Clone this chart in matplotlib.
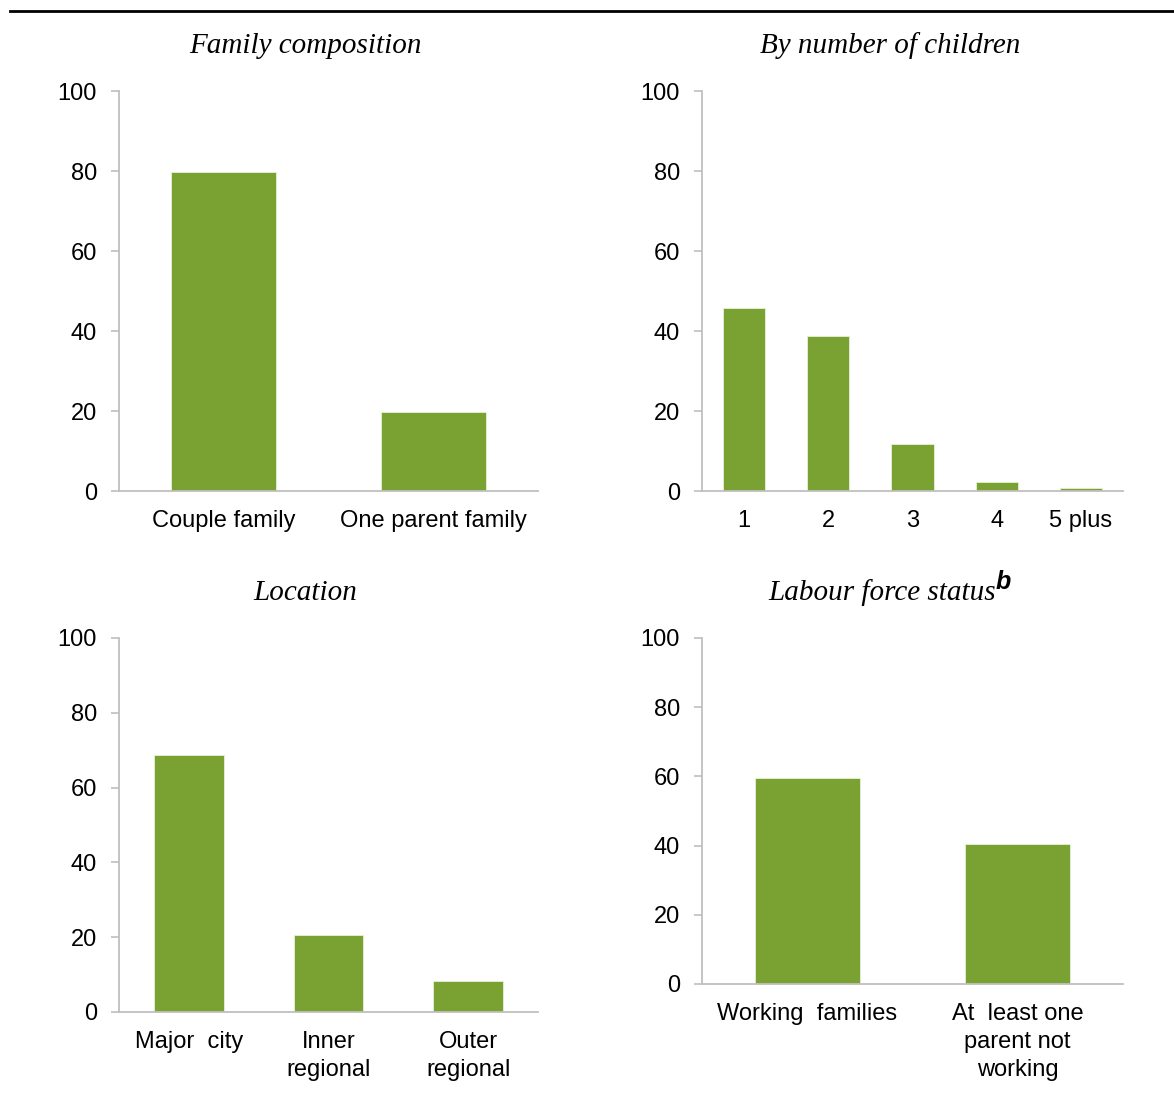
import matplotlib

matplotlib.use("Agg")
import matplotlib.pyplot as plt
from matplotlib.lines import Line2D

# values (per cent)
family_labels = ["Couple family", "One parent family"]
family_values = [79.8, 19.8]

children_labels = ["1", "2", "3", "4", "5 plus"]
children_values = [45.7, 38.7, 11.7, 2.2, 0.7]

location_labels = ["Major  city", "Inner\nregional", "Outer\nregional"]
location_values = [68.7, 20.7, 8.4]

labour_labels = ["Working  families", "At  least one\nparent not\nworking"]
labour_values = [59.4, 40.4]

BAR_COLOR = "#7AA232"
AXIS_GREY = "#BFBFBF"
W, H = 1174, 1095

plt.rcParams["font.family"] = ["Liberation Sans", "DejaVu Sans"]


def px_axes(fig, left, right, top, bottom):
    return fig.add_axes([left / W, 1 - bottom / H, (right - left) / W, (bottom - top) / H])


def bar_panel(ax, labels, values, yticks):
    x = range(len(values))
    ax.bar(x, values, width=0.5, color=BAR_COLOR, edgecolor="#E8F0D8", linewidth=0.6, zorder=2)
    ax.set_xlim(-0.5, len(values) - 0.5)
    ax.set_ylim(0, 100)
    ax.set_yticks(yticks)
    ax.set_xticks(list(x))
    ax.set_xticklabels(labels, fontsize=17, linespacing=1.35)
    ax.tick_params(axis="y", labelsize=17, length=6, width=1.2, color=AXIS_GREY, pad=10)
    ax.tick_params(axis="x", length=0, pad=14)
    for side in ("top", "right"):
        ax.spines[side].set_visible(False)
    for side in ("left", "bottom"):
        ax.spines[side].set_color(AXIS_GREY)
        ax.spines[side].set_linewidth(1.3)


fig = plt.figure(figsize=(W / 100, H / 100), dpi=100)

ax_tl = px_axes(fig, 119, 538, 91, 491)
bar_panel(ax_tl, family_labels, family_values, [0, 20, 40, 60, 80, 100])

ax_tr = px_axes(fig, 702, 1123, 91, 491)
bar_panel(ax_tr, children_labels, children_values, [0, 20, 40, 60, 80, 100])

ax_bl = px_axes(fig, 119, 538, 638, 1012)
bar_panel(ax_bl, location_labels, location_values, [0, 20, 40, 60, 80, 100])

ax_br = px_axes(fig, 702, 1123, 638, 984)
bar_panel(ax_br, labour_labels, labour_values, [0, 20, 40, 60, 80, 100])

title_kw = dict(family="Liberation Serif", style="italic", fontsize=21, ha="center", va="center")
fig.text(305 / W, 1 - 46 / H, "Family composition", **title_kw)
fig.text(890 / W, 1 - 46 / H, "By number of children", **title_kw)
fig.text(305 / W, 1 - 593 / H, "Location", **title_kw)
t = fig.text(882 / W, 1 - 593 / H, "Labour force status", **title_kw)
ax_br.annotate("b", xy=(1, 0.45), xycoords=t, fontsize=18, fontweight="bold",
               style="italic", ha="left", va="bottom")

fig.add_artist(Line2D([10 / W, 1], [1 - 11 / H, 1 - 11 / H], color="black", linewidth=2,
                      transform=fig.transFigure))

fig.savefig("out.png", dpi=100)
